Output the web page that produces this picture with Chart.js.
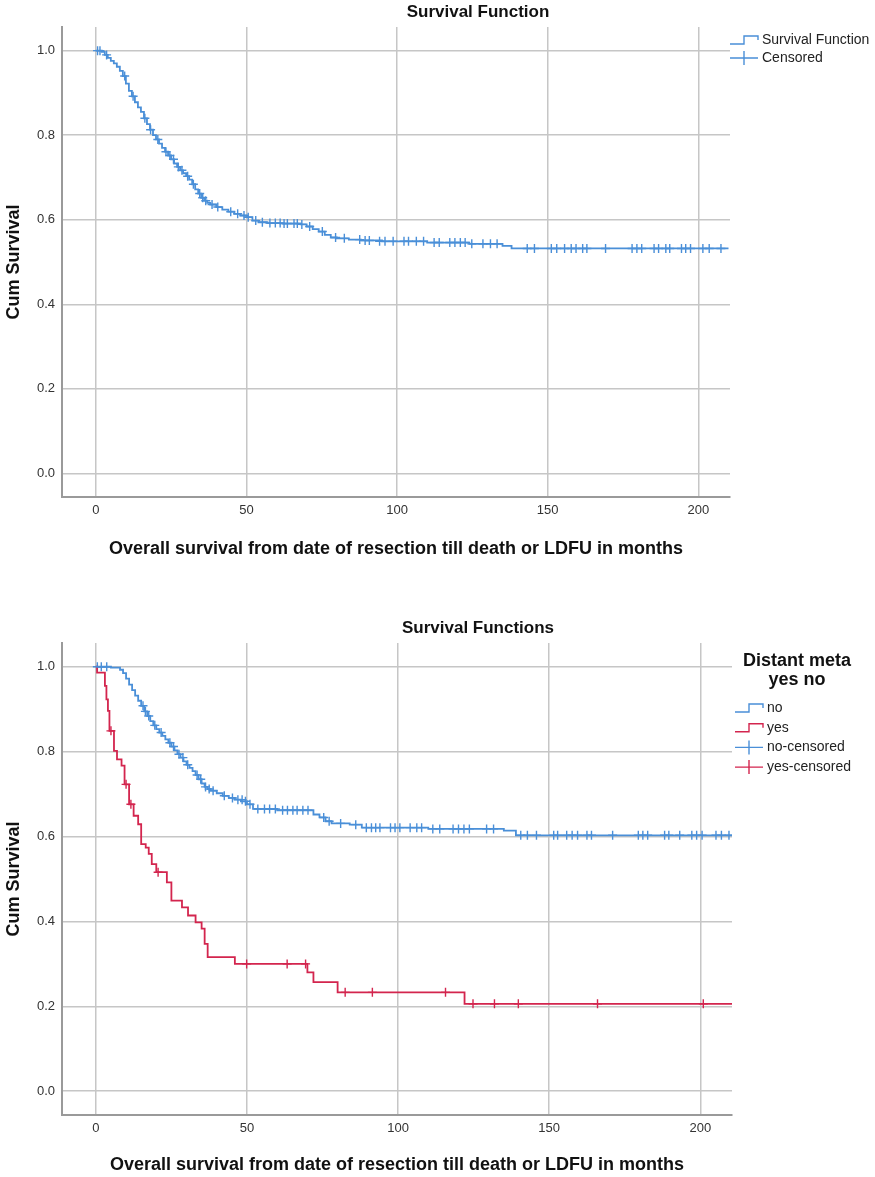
<!DOCTYPE html>
<html>
<head>
<meta charset="utf-8">
<script src="https://cdn.jsdelivr.net/npm/chart.js@4.4.1/dist/chart.umd.min.js"></script>
<style>
body{margin:0;background:#fff;}
canvas{position:absolute;left:0;}
#c1{top:0;}
#c2{top:616px;}
</style>
</head>
<body>
<canvas id="c1" width="875" height="580"></canvas>
<canvas id="c2" width="875" height="561"></canvas>
<script>
// axis ticks
var xTicks = [0, 50, 100, 150, 200];
var yTicks = [0, 0.2, 0.4, 0.6, 0.8, 1.0];

// chart 1 - overall survival (event times / cum survival)
var survT = [0,2,3,4,5,6,7,8,9,10,11,12,13,14,15,16,17,18,19,20,21,22,23,24,25,26,27,28,29,30,31,32,33,34,35,36,37,38,40,42,44,46,48,50,52,54,57,62,68,70,72,74,76,78,80,84,88,95,110,124,135,138,210];
var survS = [1.0,0.997,0.99,0.983,0.976,0.97,0.962,0.952,0.94,0.922,0.905,0.892,0.878,0.866,0.855,0.84,0.826,0.813,0.8,0.79,0.78,0.77,0.761,0.752,0.743,0.733,0.725,0.717,0.71,0.703,0.695,0.684,0.672,0.662,0.652,0.645,0.64,0.636,0.63,0.624,0.619,0.614,0.61,0.606,0.598,0.594,0.592,0.591,0.589,0.584,0.578,0.572,0.564,0.558,0.556,0.553,0.551,0.549,0.546,0.543,0.538,0.532,0.532];
var survCens = [[0.6,1.0],[1.4,1.0],[3.6,0.99],[9.6,0.94],[12.4,0.892],[16.3,0.84],[18.2,0.813],[20.6,0.79],[23.3,0.761],[24.6,0.752],[25.8,0.743],[27.4,0.725],[28.6,0.717],[30.5,0.703],[32.4,0.684],[34.5,0.662],[35.5,0.652],[36.5,0.645],[38.6,0.636],[40.5,0.63],[44.8,0.619],[47.1,0.614],[49.2,0.61],[50.6,0.606],[53.1,0.598],[55.3,0.594],[57.8,0.592],[59.6,0.592],[61.2,0.592],[62.5,0.591],[63.6,0.591],[65.8,0.591],[66.9,0.591],[68.4,0.589],[71.0,0.584],[75.2,0.572],[79.6,0.558],[82.5,0.556],[87.6,0.553],[89.4,0.551],[90.8,0.551],[94.2,0.549],[96.0,0.549],[98.7,0.549],[102.3,0.549],[103.8,0.549],[106.4,0.549],[108.8,0.549],[112.3,0.546],[114.0,0.546],[117.5,0.546],[119.2,0.546],[121.0,0.546],[122.6,0.546],[124.8,0.543],[128.5,0.543],[131.0,0.543],[133.2,0.543],[143.2,0.532],[145.6,0.532],[151.2,0.532],[153.0,0.532],[155.6,0.532],[157.8,0.532],[159.4,0.532],[161.6,0.532],[163.0,0.532],[169.2,0.532],[178.0,0.532],[179.6,0.532],[181.2,0.532],[185.3,0.532],[186.8,0.532],[189.2,0.532],[190.5,0.532],[194.4,0.532],[195.8,0.532],[197.4,0.532],[201.5,0.532],[203.6,0.532],[207.5,0.532]];

// chart 2 - distant meta no / yes
var noT = [0,5,8,9,10,11,12,13,14,15,16,17,18,19,20,21,22,23,24,25,26,27,28,29,30,31,32,33,34,35,36,37,38,40,42,44,46,48,50,52,60,72,74,76,78,84,88,110,135,139,211];
var noS = [1.0,0.998,0.993,0.985,0.972,0.958,0.945,0.932,0.92,0.908,0.895,0.884,0.872,0.862,0.853,0.845,0.837,0.829,0.821,0.812,0.803,0.794,0.786,0.777,0.769,0.762,0.754,0.745,0.735,0.725,0.717,0.712,0.708,0.702,0.696,0.691,0.687,0.683,0.676,0.665,0.662,0.652,0.645,0.636,0.631,0.628,0.621,0.618,0.614,0.603,0.603];
var noCens = [[0.5,1.0],[1.8,1.0],[3.6,1.0],[15.6,0.908],[16.4,0.895],[17.5,0.884],[19.5,0.862],[21.6,0.845],[24.5,0.821],[25.7,0.812],[27.5,0.794],[28.8,0.786],[30.4,0.769],[33.5,0.745],[34.7,0.735],[36.3,0.717],[37.5,0.712],[38.8,0.708],[42.5,0.696],[45.2,0.691],[47.0,0.687],[48.4,0.687],[49.5,0.683],[51.0,0.676],[53.6,0.665],[55.8,0.665],[57.5,0.665],[59.4,0.665],[61.8,0.662],[63.4,0.662],[65.2,0.662],[66.6,0.662],[68.5,0.662],[70.2,0.662],[75.4,0.645],[77.2,0.636],[81.0,0.631],[86.0,0.628],[89.5,0.621],[91.2,0.621],[92.6,0.621],[94.0,0.621],[97.5,0.621],[99.0,0.621],[100.6,0.621],[104.0,0.621],[106.2,0.621],[107.8,0.621],[111.5,0.618],[113.8,0.618],[118.2,0.618],[120.0,0.618],[121.8,0.618],[123.6,0.618],[129.3,0.618],[131.6,0.618],[140.6,0.603],[142.8,0.603],[145.8,0.603],[151.5,0.603],[152.8,0.603],[155.8,0.603],[157.6,0.603],[159.4,0.603],[162.5,0.603],[164.0,0.603],[171.0,0.603],[179.5,0.603],[181.0,0.603],[182.6,0.603],[188.2,0.603],[189.6,0.603],[193.2,0.603],[197.2,0.603],[198.8,0.603],[200.6,0.603],[205.2,0.603],[207.0,0.603],[209.5,0.603]];
var yesT = [0,0.4,3,3.5,4,4.5,6,7,8.5,9.5,11,12.5,14,15,16.5,17.5,18.5,20,23.5,25,28.5,30.5,33,35,36,37,46,70,72,80,122,212];
var yesS = [1.0,0.986,0.955,0.923,0.896,0.849,0.802,0.782,0.767,0.723,0.676,0.649,0.629,0.582,0.574,0.559,0.535,0.516,0.492,0.449,0.433,0.414,0.398,0.383,0.347,0.316,0.3,0.28,0.257,0.233,0.206,0.206];
var yesCens = [[5.0,0.849],[10.0,0.723],[11.6,0.676],[20.6,0.516],[49.9,0.3],[63.3,0.3],[69.4,0.3],[82.5,0.233],[91.5,0.233],[115.7,0.233],[124.8,0.206],[131.9,0.206],[139.8,0.206],[166.0,0.206],[201.0,0.206]];

var BLUE = '#4a8fd8', RED = '#d3254e';
var FONT = '"Liberation Sans", Arial, sans-serif';

function pts(t, s){ return t.map(function(v,i){ return {x:v, y:s[i]}; }); }
function cpts(a){ return a.map(function(p){ return {x:p[0], y:p[1]}; }); }

function curve(label, t, s, col){
  return {label:label, data:pts(t,s), stepped:true, borderColor:col, borderWidth:1.8, pointRadius:0, fill:false};
}
function cens(label, a, col){
  return {label:label, data:cpts(a), showLine:false, pointStyle:'cross', pointRadius:4.5, borderColor:col, borderWidth:1.4, pointBorderColor:col};
}

function overlay(cfg){
  return {
    id:'overlay',
    afterDraw:function(chart){
      var ctx = chart.ctx;
      ctx.save();
      ctx.fillStyle = '#111';
      ctx.textAlign = 'center';
      ctx.textBaseline = 'middle';
      ctx.font = 'bold 17px ' + FONT;
      ctx.fillText(cfg.title, 478, 12);
      if (cfg.heading) {
        ctx.font = 'bold 18px ' + FONT;
        ctx.fillText(cfg.heading[0], cfg.hx, cfg.hy);
        ctx.fillText(cfg.heading[1], cfg.hx, cfg.hy + 19);
      }
      ctx.textAlign = 'left';
      ctx.font = '14px ' + FONT;
      cfg.items.forEach(function(it, i){
        var y = cfg.ly + i * cfg.lstep, x = cfg.lx;
        ctx.strokeStyle = it.col;
        ctx.lineWidth = 1.4;
        ctx.beginPath();
        if (it.kind === 'step') {
          ctx.moveTo(x, y + 4); ctx.lineTo(x + 14, y + 4); ctx.lineTo(x + 14, y - 4);
          ctx.lineTo(x + 28, y - 4); ctx.lineTo(x + 28, y);
        } else {
          ctx.moveTo(x, y); ctx.lineTo(x + 28, y);
          ctx.moveTo(x + 14, y - 7); ctx.lineTo(x + 14, y + 7);
        }
        ctx.stroke();
        ctx.fillStyle = '#222';
        ctx.fillText(it.text, x + 32, y);
      });
      ctx.restore();
    }
  };
}

function makeChart(id, H, areaBottom, rightPad, titlePadB, datasets, ov){
  return new Chart(document.getElementById(id), {
    type:'line',
    data:{datasets:datasets},
    options:{
      responsive:false,
      animation:false,
      devicePixelRatio:1,
      layout:{padding:{top:27, right:rightPad, left:0, bottom:0}},
      plugins:{legend:{display:false}, tooltip:{enabled:false}},
      scales:{
        x:{
          type:'linear', min:-11.2, max:210.5,
          afterBuildTicks:function(ax){ ax.ticks = xTicks.map(function(v){ return {value:v}; }); },
          afterFit:function(ax){ ax.height = H - areaBottom; },
          ticks:{padding:6, color:'#333', font:{family:FONT, size:13}, maxRotation:0},
          grid:{color:'#c6c6c6', lineWidth:1.5, drawTicks:false},
          border:{display:true, color:'#9a9a9a', width:2},
          title:{display:true, text:'Overall survival from date of resection till death or LDFU in months',
                 color:'#111', font:{family:FONT, size:18, weight:'bold'}, padding:{top:0, bottom:titlePadB}}
        },
        y:{
          type:'linear', min:-0.056, max:1.056,
          afterBuildTicks:function(ax){ ax.ticks = yTicks.map(function(v){ return {value:v}; }); },
          afterFit:function(ax){ ax.width = 62; },
          ticks:{padding:7, color:'#333', font:{family:FONT, size:13},
                 callback:function(v){ return v.toFixed(1); }},
          grid:{color:'#c6c6c6', lineWidth:1.5, drawTicks:false},
          border:{display:true, color:'#9a9a9a', width:2},
          title:{display:true, text:'Cum Survival', color:'#111',
                 font:{family:FONT, size:18, weight:'bold'}, padding:{top:3, bottom:0}}
        }
      }
    },
    plugins:[overlay(ov)]
  });
}

makeChart('c1', 580, 497, 145, 20, [
  curve('Survival Function', survT, survS, BLUE),
  cens('Censored', survCens, BLUE)
], {
  title:'Survival Function', lx:730, ly:40, lstep:18,
  items:[{kind:'step', col:BLUE, text:'Survival Function'}, {kind:'cross', col:BLUE, text:'Censored'}]
});

makeChart('c2', 561, 499, 143, 1, [
  curve('no', noT, noS, BLUE),
  curve('yes', yesT, yesS, RED),
  cens('no-censored', noCens, BLUE),
  cens('yes-censored', yesCens, RED)
], {
  title:'Survival Functions', heading:['Distant meta', 'yes no'], hx:797, hy:45,
  lx:735, ly:92, lstep:19.7,
  items:[{kind:'step', col:BLUE, text:'no'}, {kind:'step', col:RED, text:'yes'},
         {kind:'cross', col:BLUE, text:'no-censored'}, {kind:'cross', col:RED, text:'yes-censored'}]
});
</script>
</body>
</html>
